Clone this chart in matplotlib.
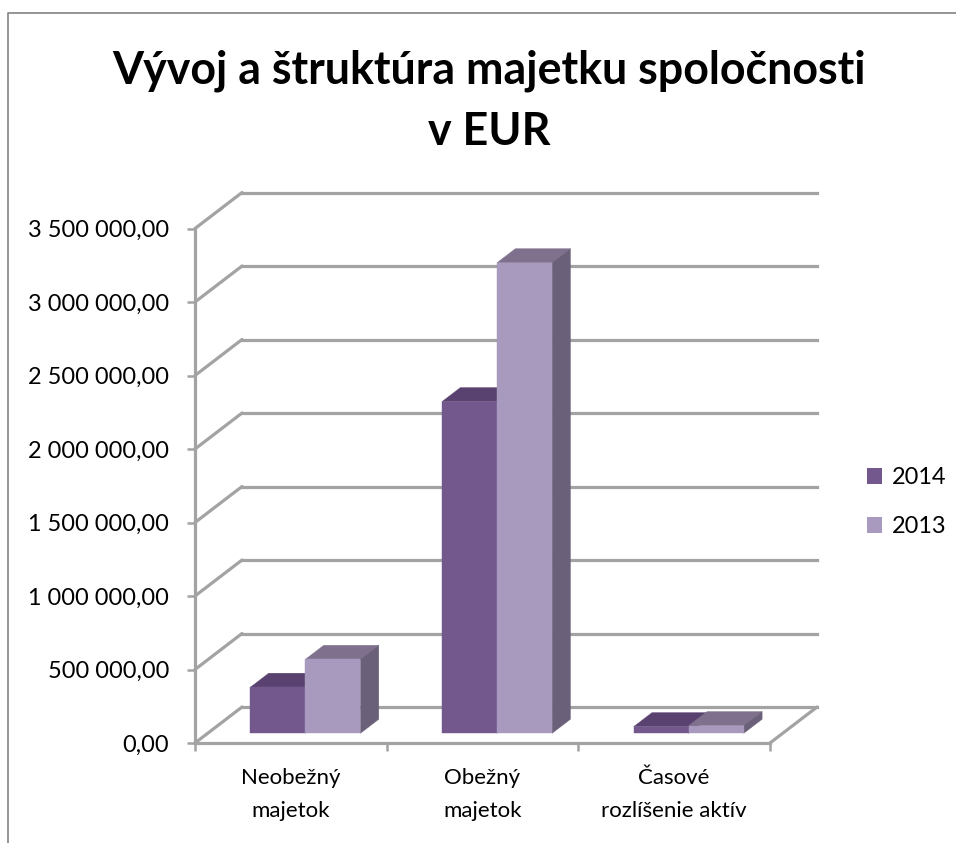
import matplotlib
matplotlib.use('Agg')
import matplotlib.pyplot as plt
from matplotlib.lines import Line2D
from matplotlib.patches import Patch, Polygon

plt.rcParams['font.family'] = ['Lato', 'DejaVu Sans']

# data
categories = ['Neobežný\nmajetok', 'Obežný\nmajetok', 'Časové\nrozlíšenie aktív']
values_2014 = [313000, 2256000, 45000]
values_2013 = [503000, 3201000, 52000]
y_ticks = [0, 500000, 1000000, 1500000, 2000000, 2500000, 3000000, 3500000]
y_labels = ['0,00', '500 000,00', '1 000 000,00', '1 500 000,00', '2 000 000,00',
            '2 500 000,00', '3 000 000,00', '3 500 000,00']

GRID = '#a3a3a3'
W, H = 956, 843
# fake 3D: how far the back wall sits from the front, in data units
DEPTH_X = 47 / 191.5
DEPTH_Y = 36 / 73.5 * 500000
BAR_W = 55 / 191.5
BAR_GAP = 42.6 / 191.5
BAR_D0 = 0.27
BAR_D1 = 0.66


def shift(x, y, d):
    return (x + d * DEPTH_X, y + d * DEPTH_Y)


def draw_bar(ax, x0, value, front, top, side, z):
    x1 = x0 + BAR_W
    base = shift(0, 0, BAR_D0)[1]
    val = base + value
    dx = (BAR_D1 - BAR_D0) * DEPTH_X
    dy = (BAR_D1 - BAR_D0) * DEPTH_Y
    fx0 = x0 + BAR_D0 * DEPTH_X
    fx1 = x1 + BAR_D0 * DEPTH_X
    faces = [
        ([(fx0, val), (fx1, val), (fx1 + dx, val + dy), (fx0 + dx, val + dy)], top),
        ([(fx1, base), (fx1, val), (fx1 + dx, val + dy), (fx1 + dx, base + dy)], side),
        ([(fx0, base), (fx1, base), (fx1, val), (fx0, val)], front),
    ]
    for pts, col in faces:
        ax.add_patch(Polygon(pts, closed=True, facecolor=col, edgecolor=col, lw=0.3,
                             zorder=z, clip_on=False))


fig = plt.figure(figsize=(W / 100, H / 100), dpi=100, facecolor='white')
ax = fig.add_axes([195 / W, (H - 743) / H, 575 / W, 514.5 / H])
ax.set_xlim(0, 3)
ax.set_ylim(0, 3500000)
ax.patch.set_visible(False)

# walls
for v in y_ticks:
    bx, by = shift(0, v, 1)
    ax.plot([0, bx], [v, by], color=GRID, lw=2.3, clip_on=False, zorder=1, solid_capstyle='round')
    ax.plot([bx, 3 + DEPTH_X], [by, by], color=GRID, lw=2.3, clip_on=False, zorder=1)
ax.plot([3, 3 + DEPTH_X], [0, DEPTH_Y], color=GRID, lw=2.3, clip_on=False, zorder=1,
        solid_capstyle='round')

# bars
for i in range(len(categories)):
    left = i + BAR_GAP
    draw_bar(ax, left, values_2014[i], '#73588e', '#5a4270', '#574a68', 3 + i * 0.1)
    draw_bar(ax, left + BAR_W, values_2013[i], '#a899be', '#7f718d', '#6a6079', 3.05 + i * 0.1)

for s in ['top', 'right']:
    ax.spines[s].set_visible(False)
for s in ['left', 'bottom']:
    ax.spines[s].set_color(GRID)
    ax.spines[s].set_linewidth(2.3)

ax.set_yticks(y_ticks)
ax.set_yticklabels(y_labels)
ax.tick_params(axis='y', length=6, width=1.8, color=GRID, labelsize=16.9, pad=12.5, labelcolor='black')
ax.set_xticks([0, 1, 2, 3])
ax.set_xticklabels([])
ax.tick_params(axis='x', length=6, width=1.8, color=GRID)
ax.set_xticks([0.5, 1.5, 2.5], minor=True)
ax.set_xticklabels(categories, minor=True, fontsize=16, linespacing=1.8)
ax.tick_params(axis='x', which='minor', length=0, pad=18)

fig.text(489 / W, (H - 101) / H, 'Vývoj a štruktúra majetku spoločnosti\nv EUR', ha='center', va='center',
         fontsize=32.2, fontweight='bold', linespacing=1.55)

handles = [Patch(facecolor='#73588e', label='2014'), Patch(facecolor='#a899be', label='2013')]
fig.legend(handles=handles, loc='center left', bbox_to_anchor=(846 / W, (H - 502) / H), frameon=False,
           fontsize=16.9, handlelength=0.65, handleheight=0.65, handletextpad=0.4, labelspacing=1.2)

# chart frame, cropped at right and bottom
fig.add_artist(Line2D([8 / W, 8 / W, 1], [0, (H - 13) / H, (H - 13) / H], color='#8c8c8c', lw=1.3))

fig.savefig('out.png', dpi=100)
